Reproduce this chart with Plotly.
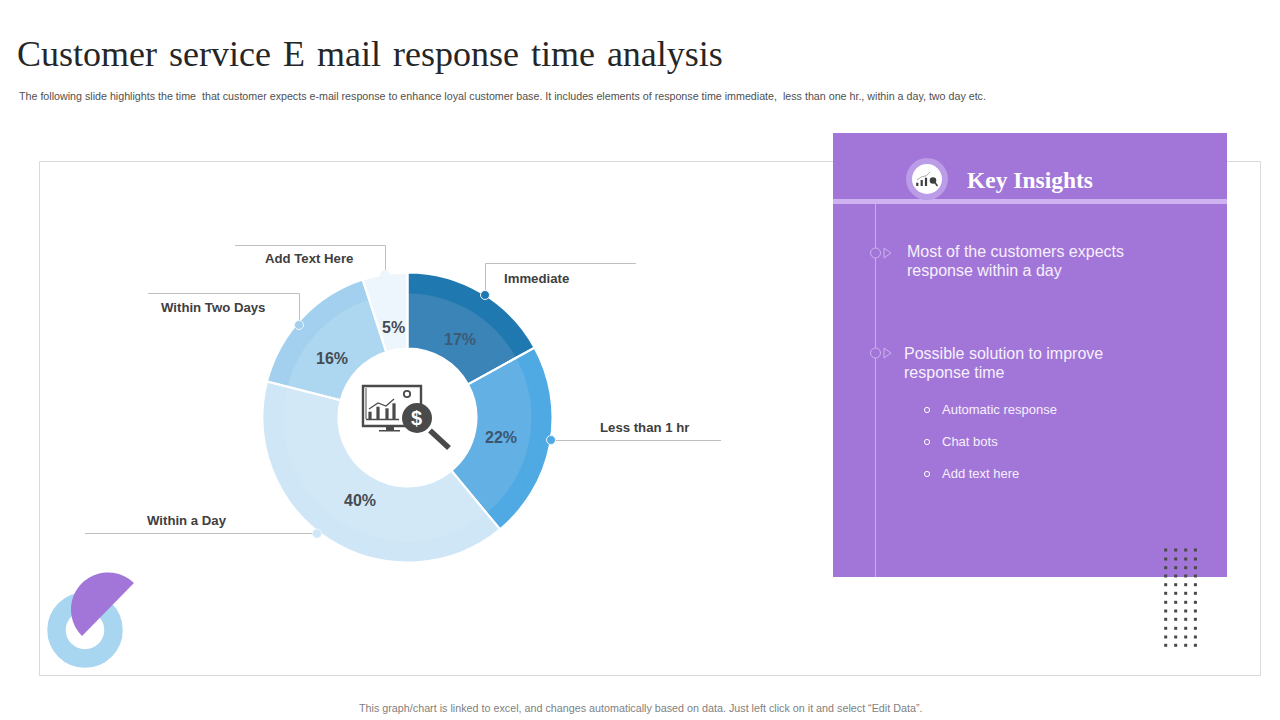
import numpy as np
import plotly.graph_objects as go

# ---- data ----
categories = ["Immediate", "Less than 1 hr", "Within a Day", "Within Two Days", "Add Text Here"]
shares = [17, 22, 40, 16, 5]
outer_colors = ["#1f78b0", "#4faae3", "#cfe6f6", "#a3d0ee", "#edf6fc"]
inner_colors = ["#3a84b8", "#62b0e4", "#d3e8f6", "#add6f0", "#edf6fc"]
share_label_colors = ["#3c5b75", "#3c5570", "#454b52", "#454b52", "#454b52"]

title_text = "Customer\u200a service\u200a E\u200a mail\u200a response\u200a time\u200a analysis"
subtitle_text = ("The following slide highlights the time  that customer expects e-mail response to enhance loyal "
                 "customer base. It includes elements of response time immediate,  less than one hr., within a day, two day etc.")
footer_text = "This graph/chart is linked to excel, and changes automatically based on data. Just left click on it and select \u201cEdit Data\u201d."
panel_title = "Key Insights"
insight_one = ["Most of the customers expects", "response within a day"]
insight_two = ["Possible solution to improve", "response time"]
sub_points = ["Automatic response", "Chat bots", "Add text here"]

# ---- layout helpers (pixel coordinates on a hidden page-sized axis) ----
W, H = 1280, 720
CX, CY = 407.5, 417.5
R_OUT, R_IN, R_HOLE = 145, 124, 69
DARK = "#404040"
PANEL = "#a276d8"
BAND = "#cfb3f0"
shapes, notes = [], []


def dom(r):
    return dict(x=[(CX - r) / W, (CX + r) / W], y=[1 - (CY + r) / H, 1 - (CY - r) / H])


def line(x0, y0, x1, y1, color="#bfbfbf", width=1, layer="above"):
    shapes.append(dict(type="line", x0=x0, y0=y0, x1=x1, y1=y1, xref="x", yref="y", layer=layer,
                       line=dict(color=color, width=width)))


def rect(x0, y0, x1, y1, fill="rgba(0,0,0,0)", color=None, width=0, layer="above"):
    shapes.append(dict(type="rect", x0=x0, y0=y0, x1=x1, y1=y1, xref="x", yref="y", layer=layer, fillcolor=fill,
                       line=dict(color=color or "rgba(0,0,0,0)", width=width)))


def circle(x, y, r, fill="rgba(0,0,0,0)", color=None, width=0, layer="above"):
    shapes.append(dict(type="circle", x0=x - r, y0=y - r, x1=x + r, y1=y + r, xref="x", yref="y", layer=layer,
                       fillcolor=fill, line=dict(color=color or "rgba(0,0,0,0)", width=width)))


def path(pts, fill="rgba(0,0,0,0)", color=None, width=0, close=True, layer="above"):
    d = "M " + " L ".join(f"{a:.2f},{b:.2f}" for a, b in pts) + (" Z" if close else "")
    shapes.append(dict(type="path", path=d, xref="x", yref="y", layer=layer, fillcolor=fill,
                       line=dict(color=color or "rgba(0,0,0,0)", width=width)))


def text(x, y, s, size, color=DARK, family="Liberation Sans", bold=False, anchor="left"):
    notes.append(dict(x=x, y=y, xref="x", yref="y", text=f"<b>{s}</b>" if bold else s, showarrow=False,
                      xanchor=anchor, yanchor="middle", borderpad=0, borderwidth=0,
                      font=dict(family=family, size=size, color=color)))


def center_icon(ox, oy, fg="#4a4a4a"):
    """Monitor + magnifier pictogram; (ox, oy) is the monitor's top-left corner."""
    P = lambda a, b: (ox + a, oy + b)
    path([P(0, 0), P(58, 0), P(58, 40), P(0, 40)], color=fg, width=2.4)
    line(*P(3, 33.5), *P(36, 33.5), color=fg, width=1.4)
    line(*P(3, 2), *P(3, 33), color=fg, width=1)
    rect(*P(23, 41), *P(31, 44), fill=fg)
    rect(*P(16, 44), *P(37, 45.5), fill=fg)
    for a, b in zip([7, 15, 24, 31], [25.7, 20.7, 22.3, 17.3]):
        rect(*P(a - 1.6, b), *P(a + 1.6, 33), fill=fg)
    path([P(6, 23), P(15, 17), P(23, 20), P(31, 13)], color=fg, width=1.2, close=False)
    circle(*P(44, 8), 3.2, color=fg, width=1.8)
    line(*P(67, 44.5), *P(86, 62), color=fg, width=5.5)
    circle(*P(54, 32), 15, fill=fg)


def badge_icon(fg="#3f3f3f"):
    for a, b in zip([917.3, 921.7, 926], [182.7, 180, 177.7]):
        rect(a - 1.1, b, a + 1.1, 186, fill=fg)
    path([(917, 180), (922, 176.5), (926, 176), (930, 172)], color="#8a8a8a", width=0.7, close=False)
    circle(933, 180.5, 3.3, fill=fg)
    line(934.5, 182, 937.5, 186, color=fg, width=1.6)


# frame, panel, decorations
rect(39.5, 161.5, 1260.5, 675.5, color="#d9d9d9", width=1, layer="below")
rect(833, 133, 1227, 577, fill=PANEL, layer="below")
rect(833, 199, 1227, 204, fill=BAND, layer="below")
line(875.5, 204, 875.5, 577, color="#c9aeee", width=1, layer="below")

circle(85, 630, 28.5, color="#a8d5f0", width=18.5, layer="below")
theta = np.radians(np.linspace(134.5, 314.5, 60))
path(list(zip(108 + 37 * np.cos(theta), 609.5 + 37 * np.sin(theta))), fill=PANEL, layer="below")

# insights timeline markers
for yy in (253, 353):
    circle(875.5, yy, 5, fill=PANEL, color="#cdb2ef", width=1)
    path([(884, yy - 5), (884, yy + 5), (891, yy)], color="#cdb2ef", width=1)
for yy in (410, 442, 474):
    circle(927, yy, 2.6, color="#ffffff", width=1)

# key insights badge
circle(927, 179, 21, fill="#bb9ce6")
circle(927, 179, 15, fill="#ffffff")
badge_icon()

# center pictogram
center_icon(363, 386)

# leader lines and their dots
line(235, 245.5, 385.5, 245.5)
line(385.5, 245.5, 385.5, 275)
line(485.5, 263.5, 636, 263.5)
line(485.5, 263.5, 485.5, 295)
line(148, 293.5, 299.5, 293.5)
line(299.5, 293.5, 299.5, 325)
line(551, 440.5, 721, 440.5)
line(85, 533.5, 317, 533.5)
for x_, y_, c_ in [(485, 295, outer_colors[0]), (551, 440, outer_colors[1]), (317, 533.5, outer_colors[2]),
                   (299, 325, outer_colors[3]), (385, 275, outer_colors[4])]:
    circle(x_, y_, 4.5, fill=c_, color="#eef7fd", width=1)

# texts
text(17, 54, title_text, 36, color="#262626", family="Liberation Serif")
text(19, 96, subtitle_text, 10.7, color="#505050")
text(640.5, 708, footer_text, 10.75, color="#7f7f7f", anchor="center")
text(967, 180, panel_title, 23.5, color="#ffffff", family="Liberation Serif", bold=True)
for i, s in enumerate(insight_one):
    text(907, 251 + i * 19, s, 16, color="#f6f0fd")
for i, s in enumerate(insight_two):
    text(904, 353 + i * 19, s, 16, color="#f6f0fd")
for yy, s in zip((409, 441, 473), sub_points):
    text(942, yy, s, 13, color="#f6f0fd")
text(504, 278, categories[0], 13.2, bold=True)
text(600, 427, categories[1], 13.2, bold=True)
text(147, 520, categories[2], 13.2, bold=True)
text(161, 307, categories[3], 13.2, bold=True)
text(265, 258, categories[4], 13.2, bold=True)
text(416.5, 418, "$", 20, color="#ffffff", bold=True, anchor="center")
# share labels, centred where the reference places them inside the ring
label_xy = [(459.5, 339), (500.5, 437), (359.5, 500), (331.5, 358), (393, 327)]
for (lx, ly), v, c_ in zip(label_xy, shares, share_label_colors):
    text(lx, ly, f"{v}%", 16, color=c_, bold=True, anchor="center")

# ---- traces ----
dot_x = [1165.7, 1175.7, 1185.7, 1195.4]
dot_y = [550, 559, 567.7, 576, 584.7, 593.3, 602.3, 611, 619.3, 628.3, 637, 645.3]
gx, gy = np.meshgrid(dot_x, dot_y)
dots = go.Scatter(x=gx.ravel(), y=gy.ravel(), mode="markers", hoverinfo="skip", showlegend=False,
                  marker=dict(symbol="square", size=3, color="#484848"))

common = dict(labels=categories, values=shares, sort=False, direction="clockwise", rotation=0,
              showlegend=False, hoverinfo="label+percent", textinfo="none")
outer = go.Pie(**common, domain=dom(R_OUT), hole=R_HOLE / R_OUT, marker=dict(colors=outer_colors))
inner = go.Pie(**common, domain=dom(R_IN), hole=R_HOLE / R_IN, marker=dict(colors=inner_colors))
seams = go.Pie(**common, domain=dom(R_OUT), hole=R_HOLE / R_OUT,
               marker=dict(colors=["rgba(0,0,0,0)"] * 5, line=dict(color="#ffffff", width=2)))

fig = go.Figure([dots, outer, inner, seams])
fig.update_layout(
    width=W, height=H, margin=dict(l=0, r=0, t=0, b=0), paper_bgcolor="#ffffff", plot_bgcolor="#ffffff",
    xaxis=dict(range=[0, W], visible=False, domain=[0, 1], fixedrange=True),
    yaxis=dict(range=[H, 0], visible=False, domain=[0, 1], fixedrange=True),
    shapes=shapes, annotations=notes, showlegend=False,
)
fig.write_html("out.html", config={"displayModeBar": False},
               post_script="document.body.style.margin='0';")
